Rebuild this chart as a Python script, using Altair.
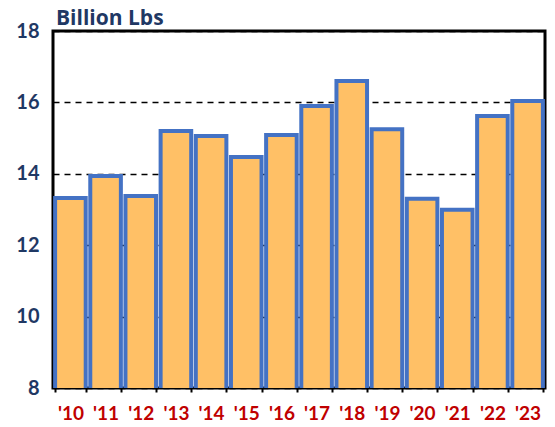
import altair as alt
import pandas as pd

years = ["'10", "'11", "'12", "'13", "'14", "'15", "'16", "'17", "'18", "'19", "'20", "'21", "'22", "'23"]
values = [13.32, 13.94, 13.38, 15.2, 15.06, 14.47, 15.09, 15.9, 16.6, 15.25, 13.3, 12.99, 15.62, 16.04]
y_ticks = [8, 10, 12, 14, 16, 18]
title_text = ["Billion Lbs"]

df = pd.DataFrame({"year": years, "value": values})

bars = alt.Chart(df).mark_bar(
    fill="#FFC066", stroke="#4472C4", strokeWidth=4, clip=True
).encode(
    x=alt.X("year:N", sort=years, title=None,
            scale=alt.Scale(paddingInner=0.13, paddingOuter=0.06),
            axis=alt.Axis(labelAngle=0, labelFont="Lato", labelFontSize=19, labelFontWeight="bold",
                          labelColor="#C00000", labelPadding=12, tickBand="extent", tickSize=4,
                          tickWidth=2, tickColor="black", domain=False, grid=False)),
    y=alt.Y("value:Q", title=None,
            scale=alt.Scale(domain=[8, 18], nice=False, zero=False),
            axis=alt.Axis(values=y_ticks, labelFont="Lato", labelFontSize=20, labelFontWeight="bold",
                          labelColor="#1F3864", labelPadding=14, ticks=False, domain=False,
                          grid=True, gridColor="black", gridDash=[6, 5], gridWidth=1.3)),
)

title = alt.Chart(pd.DataFrame({"t": title_text})).mark_text(
    font="Open Sans", fontSize=21, fontWeight="bold", color="#1F3864", align="left", baseline="alphabetic"
).encode(x=alt.value(3), y=alt.value(-6), text="t:N")

chart = alt.layer(bars, title).properties(
    width=492, height=357,
    autosize=alt.AutoSizeParams(type="none"),
    padding={"left": 45, "top": 23, "right": 2, "bottom": 34},
).configure_view(stroke="black", strokeWidth=3)

chart.save("out.html", embed_options={"renderer": "svg", "actions": False})
